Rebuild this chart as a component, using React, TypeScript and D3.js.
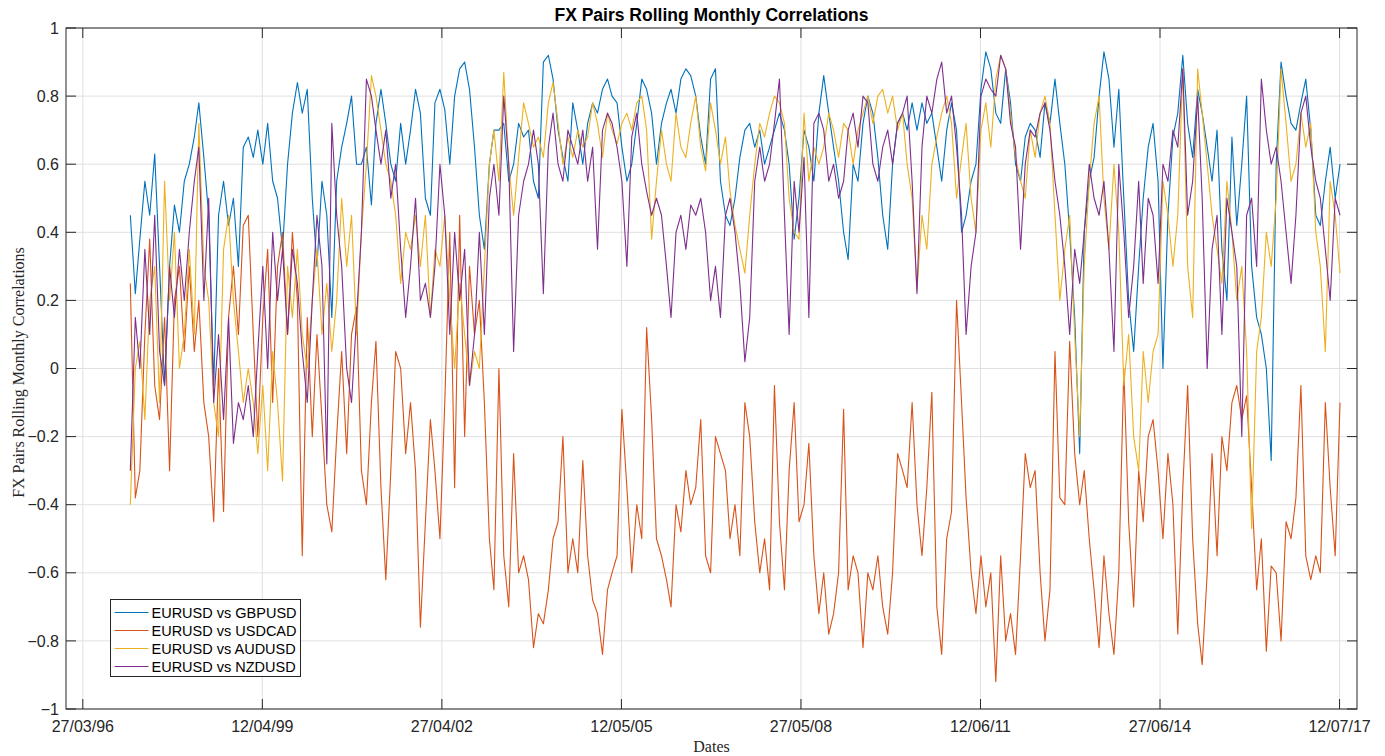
import React from "react";
import * as d3 from "d3";

// Monthly rolling correlations of EURUSD against four other pairs, Jan 1997 – Jul 2017
const START_YEAR = 1997;

const gbpusd = [
  0.45, 0.22, 0.38, 0.55, 0.45, 0.63, 0.3, -0.05, 0.3, 0.48, 0.4, 0.55,
  0.6, 0.68, 0.78, 0.62, 0.45, -0.05, 0.45, 0.55, 0.42, 0.5, 0.3, 0.65,
  0.68, 0.62, 0.7, 0.6, 0.72, 0.55, 0.5, 0.35, 0.6, 0.75, 0.84, 0.75,
  0.82, 0.5, 0.3, 0.55, 0.45, 0.15, 0.55, 0.65, 0.72, 0.8, 0.6, 0.6,
  0.65, 0.48, 0.72, 0.82, 0.72, 0.6, 0.55, 0.72, 0.6, 0.7, 0.82, 0.75,
  0.5, 0.45, 0.78, 0.82, 0.76, 0.6, 0.8, 0.88, 0.9, 0.82, 0.65, 0.45,
  0.35, 0.6, 0.7, 0.7, 0.72, 0.55, 0.6, 0.72, 0.68, 0.7, 0.55, 0.5,
  0.9, 0.92, 0.85, 0.7, 0.62, 0.55, 0.78, 0.7, 0.6, 0.72, 0.78, 0.75,
  0.82, 0.85, 0.8, 0.78, 0.65, 0.55, 0.6, 0.72, 0.85, 0.82, 0.75, 0.6,
  0.72, 0.78, 0.82, 0.75, 0.85, 0.88, 0.86, 0.8, 0.68, 0.6, 0.85, 0.88,
  0.55, 0.45, 0.42, 0.5, 0.62, 0.7, 0.72, 0.65, 0.7, 0.6, 0.65, 0.7,
  0.75, 0.7, 0.6, 0.38, 0.5, 0.7, 0.65, 0.55, 0.75, 0.86, 0.75, 0.65,
  0.55, 0.4, 0.32, 0.6, 0.55, 0.72, 0.8, 0.75, 0.62, 0.45, 0.35, 0.6,
  0.72, 0.75, 0.7, 0.78, 0.7, 0.78, 0.72, 0.75, 0.65, 0.55, 0.7, 0.78,
  0.7, 0.4, 0.45, 0.55, 0.6, 0.82, 0.93, 0.88, 0.75, 0.72, 0.88, 0.78,
  0.6, 0.55, 0.68, 0.72, 0.7, 0.62, 0.78, 0.72, 0.85, 0.72, 0.6, 0.4,
  0.15, -0.25, 0.4, 0.55, 0.62, 0.8, 0.93, 0.85, 0.65, 0.82, 0.5, 0.2,
  0.05, 0.3, 0.5, 0.65, 0.72, 0.55, 0.0, 0.45, 0.68, 0.75, 0.92, 0.72,
  0.62, 0.82, 0.75, 0.65, 0.55, 0.7, 0.35, 0.2, 0.68, 0.42, 0.6, 0.8,
  0.3, 0.15, 0.1, 0.0, -0.27, 0.6, 0.9, 0.8, 0.72, 0.7, 0.78, 0.85,
  0.7, 0.45, 0.42, 0.55, 0.65, 0.5, 0.6,
];

const usdcad = [
  0.25, -0.38, -0.3, 0.1, 0.38, -0.05, -0.15, 0.15, -0.3, 0.2, 0.3, 0.05,
  0.3, 0.05, 0.2, -0.1, -0.2, -0.45, 0.0, -0.42, 0.15, 0.3, 0.1, 0.42,
  0.45, 0.1, -0.2, 0.15, 0.35, -0.1, 0.3, 0.4, 0.1, 0.4, 0.2, -0.55,
  0.15, -0.2, 0.1, -0.15, -0.4, -0.48, -0.2, 0.05, -0.25, 0.1, 0.18, -0.3,
  -0.4, -0.1, 0.08, -0.35, -0.62, -0.3, 0.05, 0.0, -0.25, -0.1, -0.3, -0.76,
  -0.45, -0.15, -0.3, -0.5, -0.1, 0.4, -0.35, 0.45, -0.2, 0.3, 0.1, 0.2,
  -0.1, -0.5, -0.65, 0.0, -0.55, -0.7, -0.25, -0.6, -0.55, -0.62, -0.82, -0.72,
  -0.75, -0.65, -0.5, -0.45, -0.2, -0.6, -0.5, -0.6, -0.27, -0.55, -0.68, -0.72,
  -0.84, -0.65, -0.6, -0.55, -0.12, -0.35, -0.6, -0.4, -0.5, 0.12, -0.15, -0.5,
  -0.55, -0.62, -0.7, -0.4, -0.48, -0.3, -0.4, -0.35, -0.15, -0.55, -0.6, -0.2,
  -0.25, -0.3, -0.5, -0.4, -0.55, -0.1, -0.2, -0.45, -0.6, -0.5, -0.65, -0.05,
  -0.45, -0.65, -0.3, -0.1, -0.45, -0.4, -0.22, -0.55, -0.72, -0.6, -0.78, -0.72,
  -0.6, -0.12, -0.65, -0.55, -0.6, -0.82, -0.6, -0.65, -0.55, -0.7, -0.78, -0.6,
  -0.25, -0.3, -0.35, -0.1, -0.4, -0.55, -0.35, -0.07, -0.7, -0.84, -0.5, -0.42,
  0.2, -0.1, -0.38, -0.6, -0.72, -0.55, -0.7, -0.6, -0.92, -0.55, -0.8, -0.72,
  -0.84, -0.55, -0.25, -0.35, -0.3, -0.6, -0.8, -0.65, 0.05, -0.38, -0.4, 0.08,
  -0.25, -0.4, -0.3, -0.5, -0.65, -0.82, -0.55, -0.72, -0.84, -0.6, 0.0, -0.45,
  -0.7, -0.3, -0.45, -0.2, -0.15, -0.3, -0.5, -0.25, -0.4, -0.78, -0.35, -0.05,
  -0.5, -0.75, -0.87, -0.6, -0.25, -0.55, -0.2, -0.3, -0.1, -0.05, -0.15, -0.08,
  -0.35, -0.65, -0.5, -0.83, -0.58, -0.6, -0.8, -0.45, -0.5, -0.38, -0.05, -0.55,
  -0.62, -0.55, -0.6, -0.1, -0.35, -0.55, -0.1,
];

const audusd = [
  -0.4, 0.0, 0.08, -0.15, 0.2, 0.3, -0.1, 0.55, 0.2, 0.4, 0.0, 0.1,
  0.35, 0.1, 0.72, 0.3, 0.2, -0.1, -0.2, 0.35, 0.45, 0.2, 0.05, -0.1,
  0.0, -0.1, -0.25, -0.05, -0.3, 0.05, -0.1, -0.33, 0.3, 0.15, 0.35, 0.1,
  0.0, 0.2, 0.35, 0.1, 0.25, 0.05, 0.2, 0.5, 0.3, 0.45, 0.1, 0.4,
  0.6, 0.86, 0.8, 0.7, 0.6, 0.55, 0.45, 0.25, 0.4, 0.35, 0.45, 0.3,
  0.45, 0.15, 0.35, 0.3, 0.45, 0.2, 0.0, 0.25, 0.1, -0.05, 0.05, 0.0,
  0.3, 0.6, 0.7, 0.55, 0.87, 0.6, 0.45, 0.62, 0.78, 0.72, 0.65, 0.68,
  0.62, 0.78, 0.84, 0.72, 0.6, 0.68, 0.62, 0.7, 0.65, 0.68, 0.78, 0.72,
  0.62, 0.75, 0.7, 0.66, 0.72, 0.75, 0.7, 0.78, 0.8, 0.7, 0.38, 0.55,
  0.7, 0.6, 0.55, 0.75, 0.65, 0.62, 0.72, 0.8, 0.65, 0.58, 0.78, 0.7,
  0.6, 0.68, 0.52, 0.42, 0.35, 0.28, 0.45, 0.6, 0.72, 0.68, 0.75, 0.8,
  0.78, 0.72, 0.5, 0.4, 0.38, 0.75, 0.55, 0.65, 0.6, 0.65, 0.75, 0.7,
  0.62, 0.72, 0.7, 0.6, 0.7, 0.75, 0.8, 0.72, 0.8, 0.82, 0.75, 0.8,
  0.7, 0.75, 0.6, 0.5, 0.23, 0.45, 0.35, 0.6, 0.68, 0.75, 0.8, 0.72,
  0.5, 0.62, 0.72, 0.5, 0.4, 0.7, 0.78, 0.65, 0.85, 0.92, 0.88, 0.75,
  0.62, 0.55, 0.5, 0.7, 0.62, 0.75, 0.8, 0.72, 0.45, 0.2, 0.35, 0.45,
  0.1, -0.2, 0.3, 0.55, 0.72, 0.8, 0.5, 0.35, 0.6, 0.4, -0.05, 0.1,
  -0.2, -0.3, 0.05, -0.1, 0.05, 0.1, 0.55, 0.45, 0.3, 0.45, 0.88, 0.3,
  0.15, 0.88, 0.75, 0.6, 0.45, 0.35, 0.25, 0.55, 0.4, 0.2, 0.3, 0.05,
  -0.47, 0.05, 0.15, 0.4, 0.3, 0.5, 0.88, 0.72, 0.55, 0.6, 0.75, 0.65,
  0.72, 0.4, 0.3, 0.05, 0.55, 0.45, 0.28,
];

const nzdusd = [
  -0.3, 0.15, 0.0, 0.35, 0.1, 0.45, 0.05, -0.05, 0.3, 0.15, 0.35, 0.2,
  0.4, 0.55, 0.65, 0.2, 0.5, -0.1, 0.1, -0.15, 0.15, -0.22, -0.1, -0.15,
  -0.05, -0.2, 0.05, 0.3, 0.0, 0.4, 0.2, 0.35, 0.1, 0.35, 0.25, 0.05,
  -0.1, 0.2, 0.45, 0.3, -0.28, 0.72, 0.45, 0.3, 0.0, -0.1, 0.15, 0.4,
  0.85, 0.8, 0.7, 0.6, 0.7, 0.5, 0.6, 0.35, 0.15, 0.3, 0.5, 0.2,
  0.25, 0.15, 0.3, 0.6, 0.45, 0.1, 0.4, 0.2, 0.35, -0.05, 0.1, 0.4,
  0.1, 0.5, 0.6, 0.45, 0.8, 0.6, 0.05, 0.45, 0.55, 0.6, 0.7, 0.6,
  0.22, 0.65, 0.75, 0.6, 0.55, 0.7, 0.65, 0.6, 0.7, 0.55, 0.65, 0.35,
  0.7, 0.75, 0.72, 0.65, 0.55, 0.3, 0.68, 0.75, 0.6, 0.52, 0.45, 0.5,
  0.45, 0.3, 0.15, 0.4, 0.45, 0.35, 0.48, 0.45, 0.5, 0.4, 0.2, 0.3,
  0.15, 0.45, 0.5, 0.4, 0.25, 0.02, 0.15, 0.55, 0.65, 0.55, 0.6, 0.72,
  0.85, 0.45, 0.1, 0.55, 0.4, 0.62, 0.15, 0.72, 0.75, 0.7, 0.55, 0.6,
  0.5, 0.55, 0.7, 0.75, 0.65, 0.8, 0.78, 0.6, 0.55, 0.65, 0.7, 0.6,
  0.72, 0.75, 0.8, 0.55, 0.22, 0.65, 0.8, 0.75, 0.85, 0.9, 0.75, 0.8,
  0.65, 0.45, 0.1, 0.3, 0.4, 0.8, 0.85, 0.82, 0.8, 0.92, 0.88, 0.72,
  0.65, 0.35, 0.6, 0.7, 0.68, 0.75, 0.78, 0.7, 0.55, 0.45, 0.3, 0.1,
  0.35, 0.25, 0.4, 0.6, 0.5, 0.45, 0.55, 0.35, 0.05, 0.6, 0.4, 0.15,
  0.3, 0.55, 0.25, 0.5, 0.45, 0.25, 0.6, 0.55, 0.7, 0.65, 0.88, 0.45,
  0.55, 0.8, 0.5, 0.0, 0.35, 0.45, 0.1, 0.5, 0.4, 0.3, -0.2, 0.45,
  0.5, 0.3, 0.85, 0.7, 0.6, 0.65, 0.55, 0.4, 0.25, 0.45, 0.75, 0.8,
  0.65, 0.55, 0.5, 0.35, 0.2, 0.5, 0.45,
];

const seriesNames = [
  "EURUSD vs GBPUSD",
  "EURUSD vs USDCAD",
  "EURUSD vs AUDUSD",
  "EURUSD vs NZDUSD",
];
const seriesValues = [gbpusd, usdcad, audusd, nzdusd];
const seriesColors = ["#0072BD", "#D95319", "#EDB120", "#7E2F8E"];

const xTickLabels = [
  "27/03/96",
  "12/04/99",
  "27/04/02",
  "12/05/05",
  "27/05/08",
  "12/06/11",
  "27/06/14",
  "12/07/17",
];
const yTickValues = [-1, -0.8, -0.6, -0.4, -0.2, 0, 0.2, 0.4, 0.6, 0.8, 1];

const WIDTH = 1385;
const HEIGHT = 756;
const plot = { left: 66, right: 1357, top: 28, bottom: 709 };
const TICK = 10;

const parseDay = d3.timeParse("%d/%m/%y");
const months = gbpusd.map((_, i) => new Date(START_YEAR, i, 15));

export default function App() {
  const x = d3
    .scaleTime()
    .domain([new Date(1995, 11, 14), new Date(2017, 9, 28)])
    .range([plot.left, plot.right]);
  const y = d3.scaleLinear().domain([-1, 1]).range([plot.bottom, plot.top]);

  const line = d3
    .line<number>()
    .x((_, i) => x(months[i]))
    .y((d) => y(d));

  const xTicks = xTickLabels.map((label) => ({ label, pos: x(parseDay(label) as Date) }));
  const axisFont = "'Liberation Sans', Arial, Helvetica, sans-serif";
  const serifFont = "'Liberation Serif', 'Times New Roman', serif";
  const axisColor = "#262626";
  const cx = (plot.left + plot.right) / 2;
  const cy = (plot.top + plot.bottom) / 2;

  const legend = { x: 110.5, y: 599.5, w: 190, h: 77, row: 18 };

  return (
    <svg
      width={WIDTH}
      height={HEIGHT}
      style={{ position: "absolute", left: 0, top: 0, background: "#fff" }}
    >
      <rect x={0} y={0} width={WIDTH} height={HEIGHT} fill="#fff" />
      {/* grid */}
      <g stroke="#e0e0e0" strokeWidth={1}>
        {xTicks.map((t) => (
          <line key={t.label} x1={t.pos} x2={t.pos} y1={plot.top} y2={plot.bottom} />
        ))}
        {yTickValues.map((v) => (
          <line key={v} x1={plot.left} x2={plot.right} y1={y(v)} y2={y(v)} />
        ))}
      </g>

      {/* series, drawn in legend order so the last one sits on top */}
      <g fill="none" strokeWidth={1.1} strokeLinejoin="round">
        {seriesValues.map((vals, k) => (
          <path key={seriesNames[k]} d={line(vals) || ""} stroke={seriesColors[k]} />
        ))}
      </g>

      {/* axes box and inward ticks on all four sides */}
      <g stroke={axisColor} strokeWidth={1} fill="none">
        <rect
          x={plot.left}
          y={plot.top}
          width={plot.right - plot.left}
          height={plot.bottom - plot.top}
        />
        {xTicks.map((t) => (
          <g key={t.label}>
            <line x1={t.pos} x2={t.pos} y1={plot.bottom} y2={plot.bottom - TICK} />
            <line x1={t.pos} x2={t.pos} y1={plot.top} y2={plot.top + TICK} />
          </g>
        ))}
        {yTickValues.map((v) => (
          <g key={v}>
            <line x1={plot.left} x2={plot.left + TICK} y1={y(v)} y2={y(v)} />
            <line x1={plot.right} x2={plot.right - TICK} y1={y(v)} y2={y(v)} />
          </g>
        ))}
      </g>

      {/* tick labels */}
      <g fontFamily={axisFont} fontSize={16} fill={axisColor}>
        {xTicks.map((t) => (
          <text key={t.label} x={t.pos} y={plot.bottom + 23} textAnchor="middle">
            {t.label}
          </text>
        ))}
        {yTickValues.map((v) => (
          <text key={v} x={plot.left - 7} y={y(v)} dy="0.35em" textAnchor="end">
            {d3.format("")(+v.toFixed(1))}
          </text>
        ))}
      </g>

      {/* title and axis labels */}
      <text
        x={cx}
        y={21}
        textAnchor="middle"
        fontFamily={axisFont}
        fontWeight="bold"
        fontSize={17.5}
        fill="#000"
      >
        FX Pairs Rolling Monthly Correlations
      </text>
      <text
        transform={`translate(24,${cy + 4}) rotate(-90)`}
        textAnchor="middle"
        fontFamily={serifFont}
        fontSize={16}
        fill={axisColor}
      >
        FX Pairs Rolling Monthly Correlations
      </text>
      <text
        x={cx}
        y={752}
        textAnchor="middle"
        fontFamily={serifFont}
        fontSize={16}
        fill={axisColor}
      >
        Dates
      </text>

      {/* legend */}
      <g>
        <rect
          x={legend.x}
          y={legend.y}
          width={legend.w}
          height={legend.h}
          fill="#fff"
          stroke={axisColor}
          strokeWidth={1}
        />
        {seriesNames.map((name, k) => {
          const ry = Math.round(legend.y + 12 + k * legend.row) + 0.5;
          return (
            <g key={name}>
              <line
                x1={legend.x + 4}
                x2={legend.x + 38}
                y1={ry}
                y2={ry}
                stroke={seriesColors[k]}
                strokeWidth={1}
              />
              <text
                x={legend.x + 41}
                y={ry}
                dy="0.36em"
                fontFamily={axisFont}
                fontSize={14.5}
                fill="#000"
              >
                {name}
              </text>
            </g>
          );
        })}
      </g>
    </svg>
  );
}
